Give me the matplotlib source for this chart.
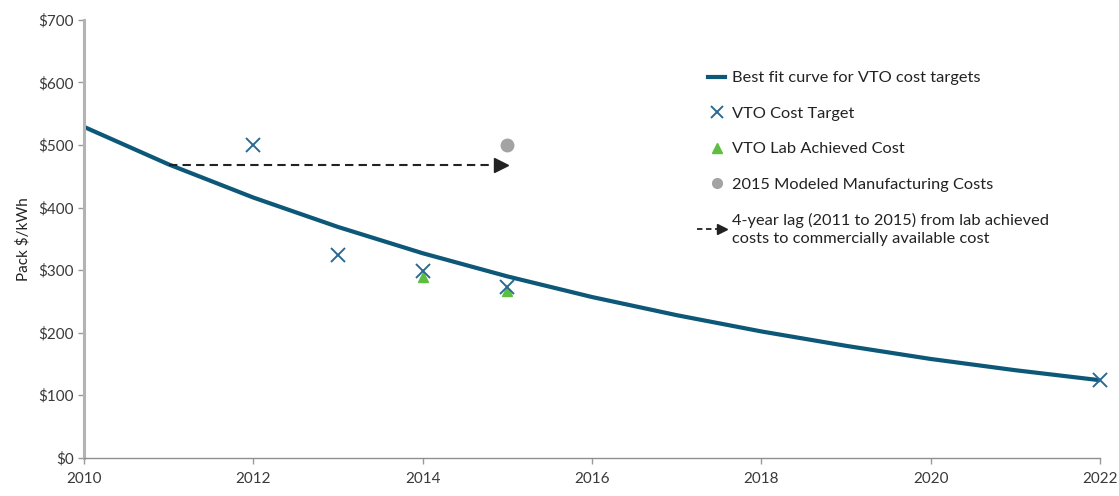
import matplotlib.pyplot as plt
from matplotlib.lines import Line2D
from matplotlib.legend_handler import HandlerBase
from matplotlib.ticker import FuncFormatter

plt.rcParams["font.family"] = ["Lato", "DejaVu Sans"]

# best fit curve
fit_years = [2010, 2011, 2012, 2013, 2014, 2015, 2016, 2017, 2018, 2019, 2020, 2021, 2022]
fit_cost = [529, 469, 416, 369, 327, 290, 257, 228, 202, 179, 158, 140, 124]

target_years = [2012, 2013, 2014, 2015, 2022]
target_cost = [500, 324, 299, 273, 125]

lab_years = [2014, 2015]
lab_cost = [289, 266]

modeled_years = [2015]
modeled_cost = [500]

lag_years = [2011, 2015]
lag_cost = 468

curve_color = "#0d5878"
x_color = "#2a6a94"
green = "#5cbf3f"
grey = "#a3a3a3"
text_color = "#3a3a3a"


class ArrowHandler(HandlerBase):
    def create_artists(self, legend, orig, xd, yd, width, height, fontsize, trans):
        y = yd + height / 2
        line = Line2D([xd - 8, xd + width - 4], [y, y], color="#222222",
                      linestyle=(0, (3, 2)), linewidth=1.3, transform=trans)
        head = Line2D([xd + width - 2], [y], marker=">", markersize=7,
                      color="#222222", linestyle="none", transform=trans)
        return [line, head]


class LagHandle:
    pass


fig = plt.figure(figsize=(11.19, 4.96), dpi=100)
ax = fig.add_axes([0.075, 0.077, 0.908, 0.883])

ax.plot(fit_years, fit_cost, color=curve_color, linewidth=3, zorder=2,
        solid_joinstyle="round")
ax.plot(target_years, target_cost, linestyle="none", marker="x", markersize=10,
        markeredgewidth=1.4, color=x_color, zorder=4, clip_on=False)
ax.plot(lab_years, lab_cost, linestyle="none", marker="^", markersize=7,
        color=green, zorder=3)
ax.plot(modeled_years, modeled_cost, linestyle="none", marker="o", markersize=9,
        color=grey, zorder=3)
ax.plot([lag_years[0], lag_years[1] - 0.12], [lag_cost, lag_cost], color="#222222",
        linestyle=(0, (4, 2.5)), linewidth=1.5, zorder=3)
ax.plot([lag_years[1] - 0.07], [lag_cost], marker=">", markersize=10,
        color="#222222", linestyle="none", zorder=3)

ax.set_xlim(2010, 2022)
ax.set_ylim(0, 700)
ax.set_xticks(range(2010, 2023, 2))
ax.set_yticks(range(0, 701, 100))
ax.yaxis.set_major_formatter(FuncFormatter(lambda v, p: f"${v:.0f}"))
ax.set_ylabel("Pack $/kWh", fontsize=11, color="#222222", labelpad=6)
ax.tick_params(axis="both", labelsize=11, colors=text_color, length=4, width=1,
               color="#9a9a9a", pad=3)
ax.tick_params(axis="x", pad=6)

for side in ["top", "right"]:
    ax.spines[side].set_visible(False)
ax.spines["left"].set_color("#b3b3b3")
ax.spines["left"].set_linewidth(2.2)
ax.spines["bottom"].set_color("#8f8f8f")
ax.spines["bottom"].set_linewidth(1)

handles = [
    Line2D([], [], color=curve_color, linewidth=3),
    Line2D([], [], color=x_color, marker="x", linestyle="none", markersize=8,
           markeredgewidth=1.4),
    Line2D([], [], color=green, marker="^", linestyle="none", markersize=7),
    Line2D([], [], color=grey, marker="o", linestyle="none", markersize=7),
    LagHandle(),
]
labels = [
    "Best fit curve for VTO cost targets",
    "VTO Cost Target",
    "VTO Lab Achieved Cost",
    "2015 Modeled Manufacturing Costs",
    "4-year lag (2011 to 2015) from lab achieved\ncosts to commercially available cost",
]
leg = ax.legend(handles, labels, loc="upper left", bbox_to_anchor=(0.6, 0.917),
                frameon=False, fontsize=11.8, handlelength=1.0, handletextpad=0.45,
                labelspacing=1.28, handler_map={LagHandle: ArrowHandler()})
for t in leg.get_texts():
    t.set_color("#222222")
    t.set_linespacing(1.4)

fig.savefig("out.png", dpi=100)
